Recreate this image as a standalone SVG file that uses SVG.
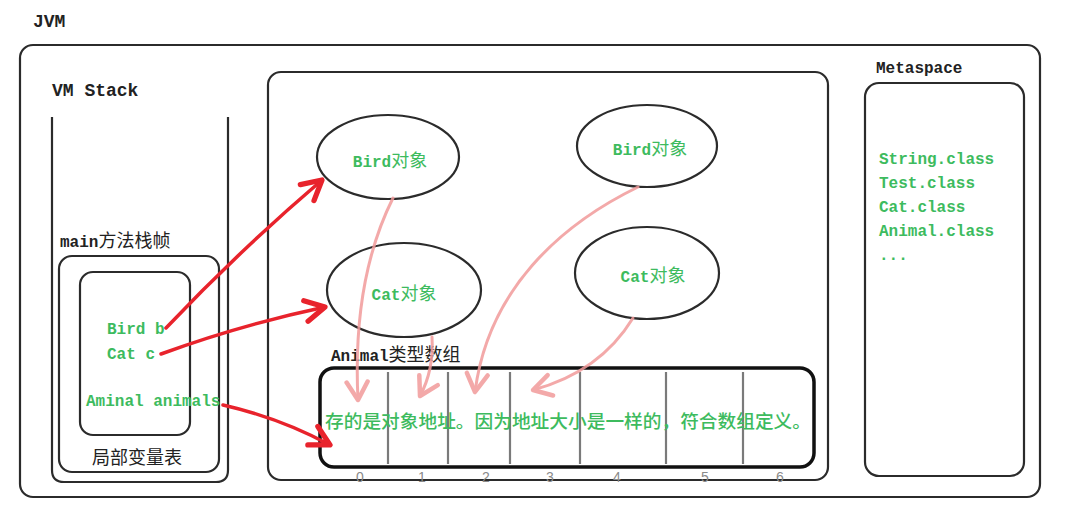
<svg xmlns="http://www.w3.org/2000/svg" width="1066" height="513" viewBox="0 0 1066 513">
<style>
.box{fill:none;stroke:#2b2b2b;stroke-width:2.2}
.lbl{font-family:"Liberation Mono","Noto Sans CJK SC",monospace;font-size:16px;fill:#222;font-weight:bold}
.cjk{font-family:"Noto Sans CJK SC",sans-serif;font-size:18px;font-weight:normal}
.g{font-family:"Liberation Mono","Noto Sans CJK SC",monospace;font-size:16px;fill:#3dbb5e;font-weight:bold}
.red{fill:none;stroke:#e8232c;stroke-width:3.5;stroke-linecap:round}
.pink{fill:none;stroke:#f29b9b;stroke-width:3;stroke-linecap:round;opacity:0.85}
.div{stroke:#7a7a7a;stroke-width:2.2}
.idx{font-family:"Liberation Sans",sans-serif;font-size:14px;fill:#8a8a8a;text-anchor:middle}
</style>
<defs>
<marker id="ar" markerUnits="userSpaceOnUse" markerWidth="30" markerHeight="30" refX="0" refY="0" viewBox="-16 -10 20 20" orient="auto">
<path d="M-13,-7 L0,0 L-13,7" fill="none" stroke="#e8232c" stroke-width="3.5" stroke-linecap="round" stroke-linejoin="round"/>
</marker>
<marker id="ap" markerUnits="userSpaceOnUse" markerWidth="30" markerHeight="30" refX="0" refY="0" viewBox="-16 -10 20 20" orient="auto">
<path d="M-12,-7 L0,0 L-12,7" fill="none" stroke="#f29b9b" stroke-width="3" stroke-linecap="round" stroke-linejoin="round"/>
</marker>
</defs>
<rect width="1066" height="513" fill="#fff"/>
<text class="lbl" x="33" y="27" style="font-size:18px">JVM</text>
<g id="jvm"><rect class="box" x="20" y="45" width="1020" height="452" rx="13"/></g>
<g id="vmstack">
<text class="lbl" x="52" y="96" style="font-size:18px">VM Stack</text>
<path class="box" d="M52,117 V470 Q52,482 64,482 H216 Q228,482 228,470 V117"/>
</g>
<g id="mainframe">
<text class="lbl" x="60" y="247">main<tspan class="cjk">方法栈帧</tspan></text>
<rect class="box" x="59" y="256" width="160" height="216" rx="13"/>
<rect class="box" x="80" y="272" width="110" height="163" rx="13"/>
<text class="g" x="107" y="334">Bird b</text>
<text class="g" x="107" y="359">Cat c</text>
<text class="g" x="86" y="406">Aminal animals</text>
<text class="lbl cjk" x="92" y="464">局部变量表</text>
</g>
<g id="heap"><rect class="box" x="268" y="72" width="560" height="408" rx="13"/></g>
<g id="bird1">
<ellipse class="box" cx="388" cy="157" rx="71" ry="42"/>
<text class="g" x="390" y="167" text-anchor="middle">Bird<tspan class="cjk">对象</tspan></text>
</g>
<g id="cat1">
<ellipse class="box" cx="404" cy="290" rx="77" ry="47"/>
<text class="g" x="404" y="300" text-anchor="middle">Cat<tspan class="cjk">对象</tspan></text>
</g>
<g id="bird2">
<ellipse class="box" cx="647" cy="146" rx="70" ry="41"/>
<text class="g" x="650" y="155" text-anchor="middle">Bird<tspan class="cjk">对象</tspan></text>
</g>
<g id="cat2">
<ellipse class="box" cx="647" cy="273" rx="72" ry="46"/>
<text class="g" x="653" y="282" text-anchor="middle">Cat<tspan class="cjk">对象</tspan></text>
</g>
<g id="array">
<text class="lbl" x="331" y="361">Animal<tspan class="cjk">类型数组</tspan></text>
<rect x="320" y="368" width="494" height="99" rx="14" fill="none" stroke="#111" stroke-width="3.5"/>
<line class="div" x1="388" y1="372" x2="388" y2="464"/>
<line class="div" x1="448" y1="372" x2="448" y2="464"/>
<line class="div" x1="510" y1="372" x2="510" y2="464"/>
<line class="div" x1="580" y1="372" x2="580" y2="464"/>
<line class="div" x1="666" y1="372" x2="666" y2="464"/>
<line class="div" x1="743" y1="372" x2="743" y2="464"/>
<text x="325" y="428" textLength="486" lengthAdjust="spacingAndGlyphs" style="font-family:'Noto Sans CJK SC',sans-serif;font-size:18.5px;fill:#3dbb5e;font-weight:500">存的是对象地址。因为地址大小是一样的，符合数组定义。</text>
<text class="idx" x="360" y="482">0</text>
<text class="idx" x="422" y="482">1</text>
<text class="idx" x="486" y="482">2</text>
<text class="idx" x="550" y="482">3</text>
<text class="idx" x="617" y="482">4</text>
<text class="idx" x="705" y="482">5</text>
<text class="idx" x="780" y="482">6</text>
</g>
<g id="metaspace">
<text class="lbl" x="876" y="73">Metaspace</text>
<rect class="box" x="865" y="83" width="159" height="393" rx="14"/>
<text class="g" x="879" y="164">String.class</text>
<text class="g" x="879" y="188">Test.class</text>
<text class="g" x="879" y="212">Cat.class</text>
<text class="g" x="879" y="236">Animal.class</text>
<text class="g" x="879" y="260">...</text>
</g>
<g id="connectors">
<path class="pink" d="M393,198 Q352,280 358,400" marker-end="url(#ap)"/>
<path class="pink" d="M432,337 Q434,370 420,396" marker-end="url(#ap)"/>
<path class="pink" d="M638,187 C560,225 488,290 475,392" marker-end="url(#ap)"/>
<path class="pink" d="M633,318 Q600,372 533,390" marker-end="url(#ap)"/>
<path class="red" d="M166,328 Q240,250 322,180" marker-end="url(#ar)"/>
<path class="red" d="M161,354 Q240,325 325,307" marker-end="url(#ar)"/>
<path class="red" d="M223,405 Q280,418 330,445" marker-end="url(#ar)"/>
</g>
</svg>
